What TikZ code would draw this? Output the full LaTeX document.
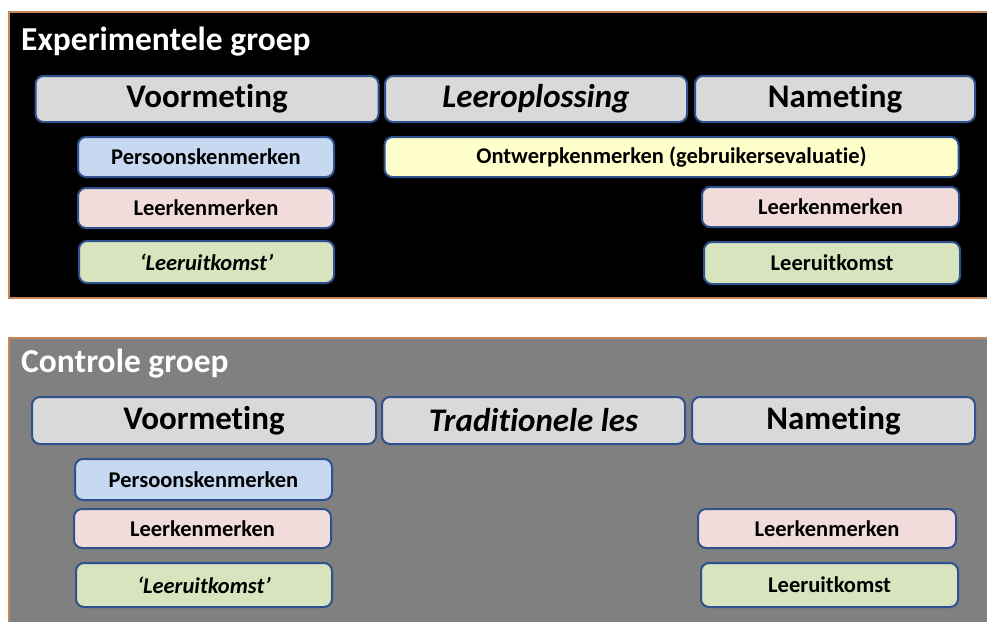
\documentclass[tikz,border=0pt]{standalone}
\usepackage{fontspec}
\setmainfont{Carlito}[RawFeature={-liga;-dlig;-clig}]
\definecolor{panelrim}{RGB}{200,135,85}
\definecolor{boxrim}{RGB}{47,82,143}
\definecolor{headfill}{RGB}{217,217,217}
\definecolor{persfill}{RGB}{198,217,241}
\definecolor{leerfill}{RGB}{242,220,219}
\definecolor{uitfill}{RGB}{215,228,189}
\definecolor{ontwfill}{RGB}{255,255,204}
\definecolor{ctgrey}{RGB}{128,128,128}
\tikzset{
  panel/.style={draw=panelrim, line width=2.5pt},
  grouptitle/.style={anchor=base west, inner sep=0pt, text=white, font=\fontsize{33.5}{38}\selectfont\bfseries},
  box/.style={draw=boxrim, line width=2pt, rounded corners=8pt, inner sep=0pt, text=black},
  headbox/.style={box, fill=headfill, font=\fontsize{33}{38}\selectfont\bfseries},
  itembox/.style={box, font=\fontsize{22.5}{26}\selectfont\bfseries},
}
\begin{document}
\begin{tikzpicture}[x=1pt,y=-1pt]
\useasboundingbox (0,0) rectangle (987,621);
\clip (0,0) rectangle (987,621);
\fill[white] (0,0) rectangle (987,621);

% Experimental group
\draw[panel, fill=black] (9,12) rectangle (1010,298);
\node[grouptitle] (exTitle) at (21,50) {Experimentele groep};
\node[headbox, minimum width=343, minimum height=46] (exVoor) at (207,99) {Voormeting};
\node[headbox, minimum width=302, minimum height=46] (exLeer) at (536,99) {\itshape Leeroplossing};
\node[headbox, minimum width=280, minimum height=46] (exNa) at (835,99) {Nameting};
\node[itembox, fill=persfill, minimum width=256, minimum height=40] (exPers) at (206,157) {Persoonskenmerken};
\node[itembox, fill=ontwfill, minimum width=574, minimum height=40] (exOntw) at (671.5,157) {Ontwerpkenmerken (gebruikersevaluatie)};
\node[itembox, fill=leerfill, minimum width=256, minimum height=40] (exLkL) at (206,208) {Leerkenmerken};
\node[itembox, fill=leerfill, minimum width=257, minimum height=40] (exLkR) at (830.5,207) {Leerkenmerken};
\node[itembox, fill=uitfill, minimum width=255, minimum height=42] (exLuL) at (206.5,262) {\itshape ‘Leeruitkomst’};
\node[itembox, fill=uitfill, minimum width=256, minimum height=42] (exLuR) at (832,263) {Leeruitkomst};

% Control group
\draw[panel, fill=ctgrey] (9,338) rectangle (1010,660);
\node[grouptitle] (ctTitle) at (21,372) {Controle groep};
\node[headbox, minimum width=344, minimum height=47] (ctVoor) at (204,420.5) {Voormeting};
\node[headbox, minimum width=303, minimum height=47] (ctTrad) at (533.5,420.5) {\itshape Traditionele les};
\node[headbox, minimum width=283, minimum height=47] (ctNa) at (833.5,420.5) {Nameting};
\node[itembox, fill=persfill, minimum width=257, minimum height=41] (ctPers) at (203.5,479.5) {Persoonskenmerken};
\node[itembox, fill=leerfill, minimum width=257, minimum height=39] (ctLkL) at (202.5,528.5) {Leerkenmerken};
\node[itembox, fill=uitfill, minimum width=256, minimum height=44] (ctLuL) at (204,585) {\itshape ‘Leeruitkomst’};
\node[itembox, fill=leerfill, minimum width=258, minimum height=39] (ctLkR) at (827,528.5) {Leerkenmerken};
\node[itembox, fill=uitfill, minimum width=257, minimum height=44] (ctLuR) at (829.5,585) {Leeruitkomst};
\end{tikzpicture}
\end{document}
